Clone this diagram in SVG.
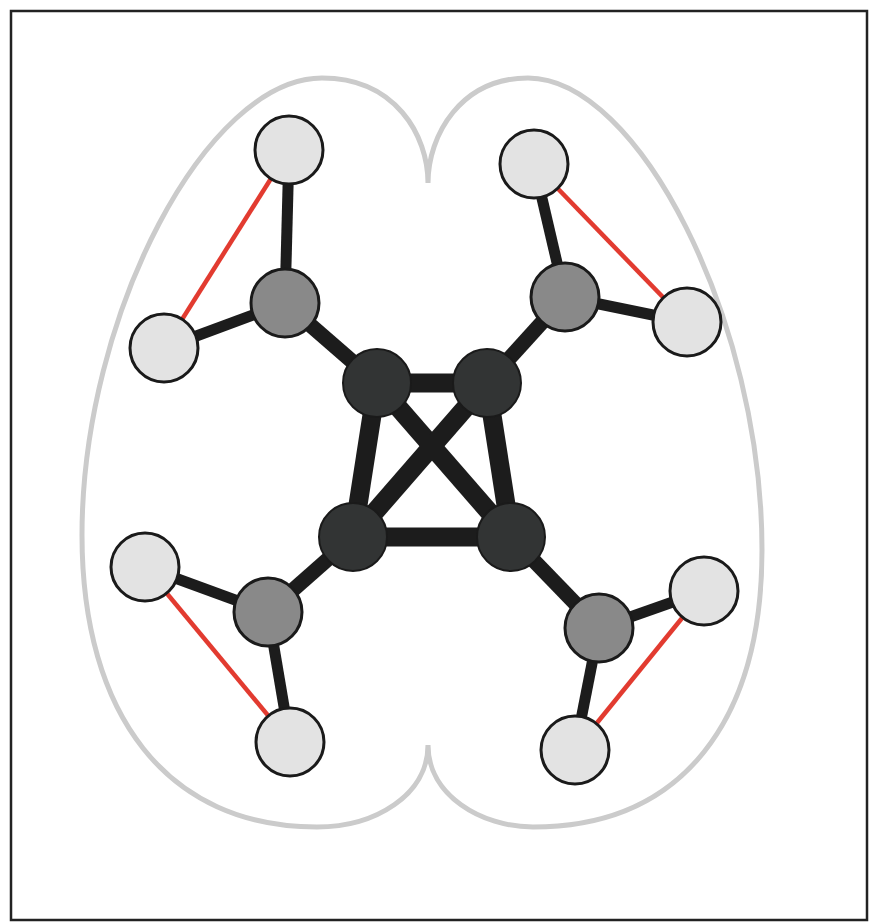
<svg xmlns="http://www.w3.org/2000/svg" width="871" height="922" viewBox="0 0 871 922">
<style>
.frame{fill:#ffffff;stroke:#222222;stroke-width:2.5}
.brain{fill:none;stroke:#cbcbcb;stroke-width:5;stroke-linejoin:bevel}
.e-core{stroke:#1c1c1c;stroke-width:19;stroke-linecap:butt}
.e-mid{stroke:#1c1c1c;stroke-width:15}
.e-leaf{stroke:#1c1c1c;stroke-width:11}
.e-red{stroke:#e23b30;stroke-width:4.5}
.n{stroke:#1a1a1a;stroke-width:3}
.dark{fill:#323434;stroke-width:2}
.gray{fill:#898989}
.light{fill:#e3e3e3}
</style>
<rect class="frame" x="11" y="11" width="856" height="909"/>
<path id="brain" class="brain" d="M428,183 C428,135 395,78 322,78 C207,78 82,315 82,535 C82,715 167,827 317,827 C375,827 428,795 428,745 C428,795 481,827 533,827 C683,827 762,720 762,550 C762,320 638,78 528,78 C461,78 428,135 428,183 Z"/>
<g id="connectors">
<line class="e-red" x1="289" y1="150" x2="164" y2="348"/>
<line class="e-red" x1="534" y1="164" x2="687" y2="322"/>
<line class="e-red" x1="145" y1="567" x2="290" y2="742"/>
<line class="e-red" x1="704" y1="591" x2="575" y2="750"/>
<line class="e-leaf" x1="285" y1="303" x2="289" y2="150"/>
<line class="e-leaf" x1="285" y1="303" x2="164" y2="348"/>
<line class="e-leaf" x1="565" y1="297" x2="534" y2="164"/>
<line class="e-leaf" x1="565" y1="297" x2="687" y2="322"/>
<line class="e-leaf" x1="268" y1="612" x2="145" y2="567"/>
<line class="e-leaf" x1="268" y1="612" x2="290" y2="742"/>
<line class="e-leaf" x1="599" y1="628" x2="704" y2="591"/>
<line class="e-leaf" x1="599" y1="628" x2="575" y2="750"/>
<line class="e-mid" x1="377" y1="383" x2="285" y2="303"/>
<line class="e-mid" x1="487" y1="383" x2="565" y2="297"/>
<line class="e-mid" x1="353" y1="537" x2="268" y2="612"/>
<line class="e-mid" x1="511" y1="537" x2="599" y2="628"/>
<line class="e-core" x1="377" y1="383" x2="487" y2="383"/>
<line class="e-core" x1="353" y1="537" x2="511" y2="537"/>
<line class="e-core" x1="377" y1="383" x2="353" y2="537"/>
<line class="e-core" x1="487" y1="383" x2="511" y2="537"/>
<line class="e-core" x1="377" y1="383" x2="511" y2="537"/>
<line class="e-core" x1="487" y1="383" x2="353" y2="537"/>
</g>
<g id="core-tl"><circle class="n dark" cx="377" cy="383" r="34"/></g>
<g id="core-tr"><circle class="n dark" cx="487" cy="383" r="34"/></g>
<g id="core-bl"><circle class="n dark" cx="353" cy="537" r="34"/></g>
<g id="core-br"><circle class="n dark" cx="511" cy="537" r="34"/></g>
<g id="hub-tl"><circle class="n gray" cx="285" cy="303" r="34"/></g>
<g id="hub-tr"><circle class="n gray" cx="565" cy="297" r="34"/></g>
<g id="hub-bl"><circle class="n gray" cx="268" cy="612" r="34"/></g>
<g id="hub-br"><circle class="n gray" cx="599" cy="628" r="34"/></g>
<g id="leaf-tl-a"><circle class="n light" cx="289" cy="150" r="34"/></g>
<g id="leaf-tl-b"><circle class="n light" cx="164" cy="348" r="34"/></g>
<g id="leaf-tr-a"><circle class="n light" cx="534" cy="164" r="34"/></g>
<g id="leaf-tr-b"><circle class="n light" cx="687" cy="322" r="34"/></g>
<g id="leaf-bl-a"><circle class="n light" cx="145" cy="567" r="34"/></g>
<g id="leaf-bl-b"><circle class="n light" cx="290" cy="742" r="34"/></g>
<g id="leaf-br-a"><circle class="n light" cx="704" cy="591" r="34"/></g>
<g id="leaf-br-b"><circle class="n light" cx="575" cy="750" r="34"/></g>
</svg>
